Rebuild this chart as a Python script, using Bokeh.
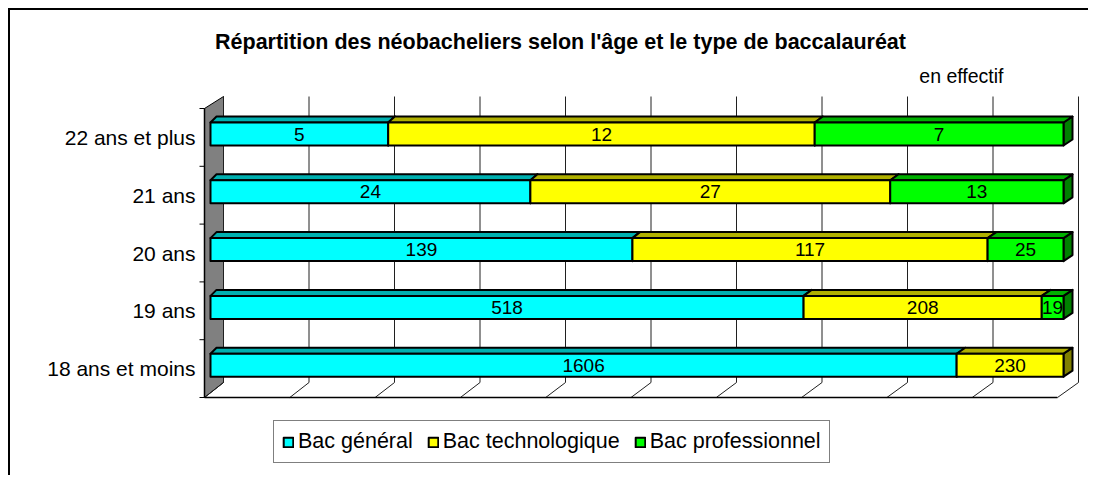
from bokeh.plotting import figure
from bokeh.models import Range1d, FixedTicker, Legend, LegendItem, Label
from bokeh.embed import file_html
from bokeh.resources import INLINE
from bokeh.core.properties import value

# ---------------- data ----------------
categories = ["18 ans et moins", "19 ans", "20 ans", "21 ans", "22 ans et plus"]
series_names = ["Bac général", "Bac technologique", "Bac professionnel"]
bac_general = [1606, 518, 139, 24, 5]
bac_techno = [230, 208, 117, 27, 12]
bac_pro = [0, 19, 25, 13, 7]
title_text = "Répartition des néobacheliers selon l'âge et le type de baccalauréat"
unit_text = "en effectif"

# ---------------- styles ----------------
front_colors = ["#00FFFF", "#FFFF00", "#00FF00"]
top_colors = ["#00B0B0", "#B0B000", "#00B000"]
side_colors = ["#008080", "#808000", "#008000"]
FONT = "Liberation Sans"

# ---------------- layout (page pixels) ----------------
W, H = 1080, 467
OX, OY = 10, 10            # canvas origin on page (8px margin + 2px border)
FRAME_L = 196              # page x of frame left
X0, X100 = 210, 1063       # page x of 0% / 100% on bar fronts
Y0, BAND = 397, 57.8       # page y of floor front, band height
SX = (X100 - X0) / 100.0


def px2x(px):
    return (px - X0) / SX


def py2y(py):
    return (Y0 - py) / BAND


p = figure(width=W, height=H, output_backend="svg", toolbar_location=None,
           title=None, x_axis_type=None,
           x_range=Range1d(px2x(FRAME_L), px2x(OX + W)),
           y_range=Range1d(py2y(OY + H), py2y(OY)),
           min_border_left=FRAME_L - OX, min_border_right=0,
           min_border_top=0, min_border_bottom=0)
p.styles = {"margin-left": "8px", "margin-top": "8px",
            "border-top": "2px solid black", "border-left": "2px solid black"}
p.outline_line_color = None
p.xgrid.visible = False
p.ygrid.visible = False
p.background_fill_color = "white"
p.border_fill_color = "white"

# y axis with category labels
yax = p.yaxis[0]
yax.ticker = FixedTicker(ticks=[i + 0.5 for i in range(len(categories))])
yax.major_label_overrides = {i + 0.5: c for i, c in enumerate(categories)}
yax.axis_line_color = None
yax.major_tick_line_color = None
yax.minor_tick_line_color = None
yax.major_tick_in = 0
yax.major_tick_out = 0
yax.major_label_standoff = 1
yax.major_label_text_font = FONT
yax.major_label_text_font_size = "21px"
yax.major_label_text_color = "black"

# ---------------- walls / floor / grid ----------------
fx0, fx1 = px2x(204), px2x(1057)       # front plane
bx0, bx1 = px2x(223), px2x(1078)       # back plane
by0, by1 = py2y(382), py2y(96)
fy0, fy1 = 0.0, float(len(categories))

p.patch([fx0, fx0, bx0, bx0], [fy0, fy1, by1, by0],
        fill_color="#808080", line_color="black", line_width=1)

gx, gy = [], []
for k in range(11):
    xb = bx0 + k * (bx1 - bx0) / 10
    xf = fx0 + k * (fx1 - fx0) / 10
    gx.append([xb, xb, xf])
    gy.append([by1, by0, fy0])
p.multi_line(gx, gy, line_color="#202020", line_width=1)
p.line([fx0, fx1], [fy0, fy0], line_color="black", line_width=1.5)
p.line([fx0, fx0], [fy0, fy1], line_color="black", line_width=1.5)

# left tick marks at band boundaries
p.segment(x0=[px2x(199)] * 6, y0=list(range(6)), x1=[fx0] * 6, y1=list(range(6)),
          line_color="black", line_width=1)

# ---------------- bars ----------------
series = [bac_general, bac_techno, bac_pro]
totals = [sum(v) for v in zip(*series)]
DY = 6 / BAND


def ddx(pct):
    return (6 + 3 * pct / 100.0) / SX


legend_items = []
cum = [0.0] * len(categories)
lab_x, lab_y, lab_t = [], [], []
for s, vals in enumerate(series):
    L, R, B, T = [], [], [], []
    tx, ty, sxs, sys_ = [], [], [], []
    for i, v in enumerate(vals):
        if v <= 0:
            continue
        l = cum[i] / totals[i] * 100
        r = (cum[i] + v) / totals[i] * 100
        cum[i] += v
        b = i + 1 - 37 / BAND
        t = i + 1 - 14 / BAND
        L.append(l); R.append(r); B.append(b); T.append(t)
        tx.append([l, r, r + ddx(r), l + ddx(l)])
        ty.append([t, t, t + DY, t + DY])
        sxs.append([r, r, r + ddx(r), r + ddx(r)])
        sys_.append([b, t, t + DY, b + DY])
        lab_x.append((l + r) / 2)
        lab_y.append((b + t) / 2)
        lab_t.append(str(v))
    p.patches(sxs, sys_, fill_color=side_colors[s], line_color="black",
              line_width=2, line_join="round")
    p.patches(tx, ty, fill_color=top_colors[s], line_color="black",
              line_width=2, line_join="round")
    rq = p.quad(left=L, right=R, bottom=B, top=T, fill_color=front_colors[s],
                line_color="black", line_width=2, line_join="round")
    legend_items.append(LegendItem(label=series_names[s], renderers=[rq]))

p.text(x=lab_x, y=lab_y, text=lab_t, text_align="center", text_baseline="middle",
       text_font=value(FONT), text_font_size="19px", text_color="black")

# ---------------- titles ----------------
p.add_layout(Label(x=px2x(560), y=py2y(41), text=title_text, text_align="center",
                   text_baseline="middle", text_font=FONT, text_font_size="21.5px",
                   text_font_style="bold", text_color="black"))
p.add_layout(Label(x=px2x(1003), y=py2y(75), text=unit_text, text_align="right",
                   text_baseline="middle", text_font=FONT, text_font_size="19.5px",
                   text_color="black"))

# ---------------- legend ----------------
legend = Legend(items=legend_items, orientation="horizontal",
                location=(273 - FRAME_L, (OY + H) - 463),
                glyph_width=12, glyph_height=12, label_standoff=4, spacing=14,
                padding=8, margin=0, label_height=18,
                label_text_font=FONT, label_text_font_size="21.5px",
                label_text_color="black",
                border_line_color="black", border_line_width=1,
                background_fill_color="white", background_fill_alpha=1.0)
p.add_layout(legend)

open("out.html", "w").write(file_html(p, INLINE))
